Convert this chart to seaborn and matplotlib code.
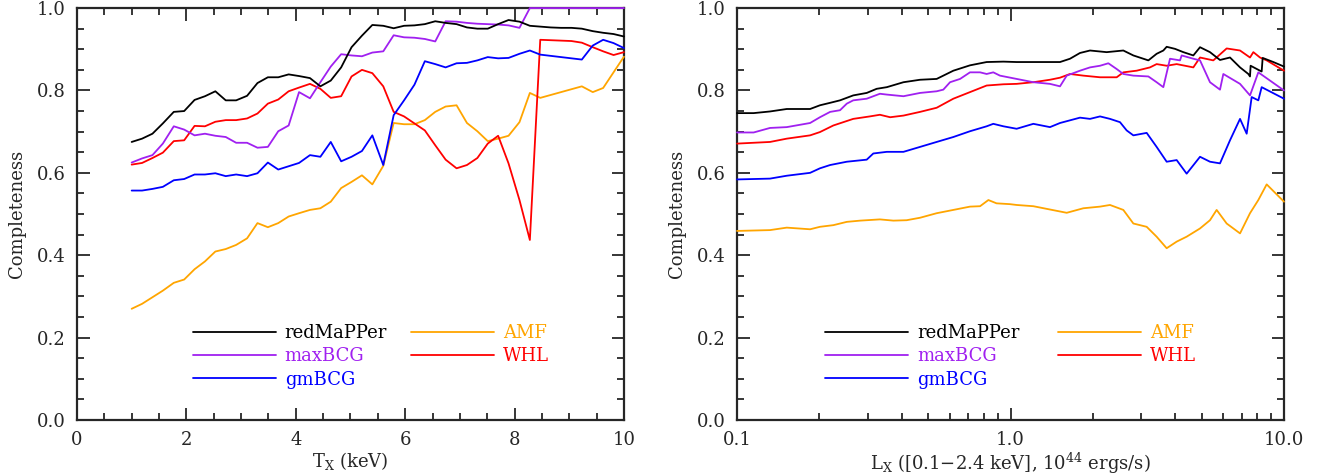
import numpy as np
import pandas as pd
import matplotlib
matplotlib.use("Agg")
import matplotlib.pyplot as plt
from matplotlib.ticker import MultipleLocator, FixedLocator, NullFormatter
import seaborn as sns

# ---- left panel: completeness vs T_X (keV)
tx = [1.00, 1.19, 1.38, 1.57, 1.77, 1.96, 2.15, 2.34, 2.53, 2.72,
      2.91, 3.11, 3.30, 3.49, 3.68, 3.87, 4.06, 4.26, 4.45, 4.64,
      4.83, 5.02, 5.21, 5.40, 5.60, 5.79, 5.98, 6.17, 6.36, 6.55,
      6.74, 6.94, 7.13, 7.32, 7.51, 7.70, 7.89, 8.09, 8.28, 8.47,
      8.66, 8.85, 9.04, 9.23, 9.43, 9.62, 9.81, 10.00]

tx_redmapper = [0.675, 0.683, 0.695, 0.720, 0.748, 0.750, 0.777, 0.786, 0.798, 0.776,
                0.776, 0.787, 0.818, 0.832, 0.832, 0.839, 0.835, 0.830, 0.810, 0.824,
                0.856, 0.905, 0.933, 0.959, 0.957, 0.951, 0.957, 0.958, 0.961, 0.968,
                0.964, 0.961, 0.953, 0.950, 0.950, 0.961, 0.971, 0.967, 0.957, 0.955,
                0.953, 0.952, 0.952, 0.950, 0.944, 0.940, 0.937, 0.931]
tx_maxbcg = [0.625, 0.635, 0.643, 0.671, 0.713, 0.705, 0.691, 0.695, 0.690, 0.687,
             0.673, 0.673, 0.661, 0.663, 0.701, 0.715, 0.796, 0.781, 0.820, 0.858,
             0.888, 0.885, 0.883, 0.892, 0.895, 0.934, 0.929, 0.928, 0.925, 0.919,
             0.968, 0.967, 0.964, 0.962, 0.961, 0.960, 0.958, 0.952, 1.000, 1.000,
             1.000, 1.000, 1.000, 1.000, 1.000, 1.000, 1.000, 1.000]
tx_gmbcg = [0.557, 0.557, 0.561, 0.566, 0.582, 0.585, 0.596, 0.596, 0.599, 0.592,
            0.596, 0.592, 0.599, 0.625, 0.608, 0.616, 0.624, 0.643, 0.639, 0.675,
            0.628, 0.639, 0.653, 0.691, 0.619, 0.740, 0.776, 0.814, 0.871, 0.864,
            0.856, 0.866, 0.867, 0.873, 0.881, 0.878, 0.879, 0.889, 0.897, 0.887,
            0.884, 0.881, 0.878, 0.875, 0.909, 0.923, 0.915, 0.903]
tx_amf = [0.270, 0.282, 0.298, 0.314, 0.333, 0.341, 0.366, 0.385, 0.409, 0.415,
          0.425, 0.441, 0.478, 0.468, 0.478, 0.494, 0.502, 0.510, 0.514, 0.530,
          0.563, 0.578, 0.594, 0.572, 0.617, 0.721, 0.718, 0.718, 0.728, 0.748,
          0.761, 0.764, 0.721, 0.701, 0.677, 0.683, 0.690, 0.723, 0.794, 0.782,
          0.789, 0.796, 0.803, 0.810, 0.796, 0.806, 0.844, 0.882]
tx_whl = [0.620, 0.624, 0.636, 0.649, 0.677, 0.679, 0.714, 0.713, 0.724, 0.728,
          0.728, 0.732, 0.744, 0.768, 0.778, 0.798, 0.807, 0.816, 0.804, 0.782,
          0.786, 0.834, 0.850, 0.842, 0.810, 0.748, 0.737, 0.720, 0.703, 0.667,
          0.632, 0.611, 0.619, 0.636, 0.671, 0.690, 0.623, 0.534, 0.437, 0.923,
          0.922, 0.921, 0.920, 0.916, 0.905, 0.895, 0.886, 0.893]

# ---- right panel: completeness vs L_X (10^44 erg/s)
lx_redmapper = [0.100, 0.115, 0.132, 0.152, 0.185, 0.201, 0.219, 0.238, 0.266, 0.298,
                0.324, 0.353, 0.406, 0.467, 0.537, 0.618, 0.711, 0.818, 0.942, 1.053,
                1.212, 1.517, 1.650, 1.795, 1.953, 2.247, 2.585, 2.813, 3.192, 3.422,
                3.621, 3.724, 3.995, 4.285, 4.661, 4.931, 5.363, 5.834, 6.347, 6.906,
                7.407, 7.511, 7.550, 8.170, 8.286, 8.356, 9.141, 10.0]
c_redmapper = [0.745, 0.745, 0.749, 0.755, 0.755, 0.764, 0.770, 0.776, 0.788, 0.794,
               0.804, 0.808, 0.820, 0.826, 0.828, 0.848, 0.861, 0.869, 0.870, 0.869,
               0.869, 0.869, 0.877, 0.891, 0.897, 0.893, 0.897, 0.885, 0.873, 0.889,
               0.897, 0.906, 0.901, 0.893, 0.885, 0.905, 0.893, 0.874, 0.880, 0.856,
               0.840, 0.834, 0.860, 0.848, 0.846, 0.879, 0.869, 0.858]

lx_maxbcg = [0.100, 0.115, 0.132, 0.152, 0.185, 0.201, 0.219, 0.238, 0.252, 0.266,
             0.298, 0.333, 0.353, 0.406, 0.467, 0.537, 0.568, 0.601, 0.654, 0.711,
             0.774, 0.818, 0.865, 0.915, 1.053, 1.212, 1.394, 1.517, 1.605, 1.795,
             1.953, 2.125, 2.279, 2.445, 2.585, 2.813, 3.192, 3.422, 3.621, 3.830,
             4.166, 4.225, 4.661, 4.931, 5.363, 5.834, 6.000, 6.906, 7.511, 8.056, 10.0]
c_maxbcg = [0.698, 0.698, 0.709, 0.711, 0.721, 0.735, 0.748, 0.752, 0.768, 0.776,
            0.780, 0.792, 0.790, 0.786, 0.794, 0.798, 0.802, 0.820, 0.828, 0.844,
            0.844, 0.840, 0.844, 0.836, 0.828, 0.820, 0.816, 0.810, 0.836, 0.848,
            0.856, 0.860, 0.866, 0.852, 0.840, 0.836, 0.834, 0.820, 0.808, 0.877,
            0.873, 0.885, 0.877, 0.873, 0.820, 0.802, 0.840, 0.816, 0.788, 0.844, 0.800]

lx_gmbcg = [0.100, 0.132, 0.152, 0.185, 0.201, 0.219, 0.252, 0.298, 0.315, 0.353,
            0.406, 0.467, 0.537, 0.618, 0.711, 0.818, 0.865, 0.942, 1.053, 1.212,
            1.394, 1.517, 1.795, 1.953, 2.125, 2.311, 2.514, 2.659, 2.813, 3.147,
            3.422, 3.724, 4.051, 4.406, 4.931, 5.363, 5.834, 6.347, 6.906, 7.304,
            7.617, 8.056, 8.286, 10.0]
c_gmbcg = [0.584, 0.586, 0.593, 0.600, 0.611, 0.619, 0.627, 0.632, 0.647, 0.651,
           0.651, 0.663, 0.675, 0.687, 0.701, 0.713, 0.719, 0.713, 0.707, 0.719,
           0.711, 0.721, 0.734, 0.731, 0.737, 0.731, 0.723, 0.703, 0.691, 0.697,
           0.663, 0.627, 0.631, 0.598, 0.639, 0.627, 0.623, 0.679, 0.731, 0.695,
           0.784, 0.776, 0.808, 0.780]

lx_amf = [0.100, 0.132, 0.152, 0.185, 0.201, 0.225, 0.252, 0.282, 0.333, 0.373,
          0.417, 0.467, 0.537, 0.618, 0.711, 0.774, 0.830, 0.889, 0.995, 1.053,
          1.212, 1.394, 1.605, 1.846, 2.125, 2.311, 2.585, 2.813, 3.147, 3.422,
          3.724, 4.051, 4.406, 4.931, 5.363, 5.672, 6.171, 6.906, 7.511, 8.056,
          8.643, 10.0]
c_amf = [0.459, 0.461, 0.467, 0.463, 0.469, 0.473, 0.481, 0.484, 0.487, 0.484,
         0.485, 0.491, 0.502, 0.510, 0.518, 0.519, 0.534, 0.526, 0.524, 0.522,
         0.519, 0.511, 0.503, 0.514, 0.518, 0.522, 0.510, 0.477, 0.469, 0.445,
         0.417, 0.433, 0.445, 0.465, 0.485, 0.510, 0.477, 0.453, 0.502, 0.534,
         0.572, 0.530]

lx_whl = [0.100, 0.132, 0.152, 0.185, 0.201, 0.225, 0.266, 0.306, 0.333, 0.363,
          0.406, 0.467, 0.537, 0.618, 0.711, 0.818, 0.942, 1.053, 1.212, 1.394,
          1.517, 1.650, 1.846, 2.125, 2.445, 2.585, 2.893, 3.236, 3.422, 3.724,
          4.051, 4.661, 4.931, 5.515, 6.171, 6.906, 7.511, 7.725, 8.170, 8.643, 10.0]
c_whl = [0.671, 0.675, 0.683, 0.691, 0.699, 0.715, 0.731, 0.737, 0.741, 0.735,
         0.739, 0.748, 0.758, 0.780, 0.796, 0.812, 0.815, 0.816, 0.820, 0.826,
         0.831, 0.840, 0.836, 0.832, 0.832, 0.844, 0.848, 0.856, 0.864, 0.860,
         0.864, 0.856, 0.880, 0.873, 0.902, 0.897, 0.880, 0.893, 0.880, 0.873, 0.848]

catalogs = ["redMaPPer", "maxBCG", "gmBCG", "AMF", "WHL"]
colors = {"redMaPPer": "black", "maxBCG": "#A020F0", "gmBCG": "#0000FF",
          "AMF": "#FFA500", "WHL": "#FF0000"}

left = pd.concat([
    pd.DataFrame({"x": tx, "c": tx_redmapper, "cat": "redMaPPer"}),
    pd.DataFrame({"x": tx, "c": tx_maxbcg, "cat": "maxBCG"}),
    pd.DataFrame({"x": tx, "c": tx_gmbcg, "cat": "gmBCG"}),
    pd.DataFrame({"x": tx, "c": tx_amf, "cat": "AMF"}),
    pd.DataFrame({"x": tx, "c": tx_whl, "cat": "WHL"}),
])
right = pd.concat([
    pd.DataFrame({"x": lx_redmapper, "c": c_redmapper, "cat": "redMaPPer"}),
    pd.DataFrame({"x": lx_maxbcg, "c": c_maxbcg, "cat": "maxBCG"}),
    pd.DataFrame({"x": lx_gmbcg, "c": c_gmbcg, "cat": "gmBCG"}),
    pd.DataFrame({"x": lx_amf, "c": c_amf, "cat": "AMF"}),
    pd.DataFrame({"x": lx_whl, "c": c_whl, "cat": "WHL"}),
])

sns.set_style("ticks")
plt.rcParams["font.family"] = ["DejaVu Serif"]
plt.rcParams["mathtext.fontset"] = "dejavuserif"
fs = 13

fig = plt.figure(figsize=(13.18, 4.75), dpi=100)
ax1 = fig.add_axes([0.0584, 0.1158, 0.4150, 0.8672])
ax2 = fig.add_axes([0.5592, 0.1158, 0.4150, 0.8672])

for ax, df in [(ax1, left), (ax2, right)]:
    sns.lineplot(data=df, x="x", y="c", hue="cat", palette=colors,
                 hue_order=["AMF", "WHL", "gmBCG", "maxBCG", "redMaPPer"],
                 sort=False, estimator=None, lw=1.3, ax=ax, legend=False)
    # draw on top of the frame so the maxBCG run at 1.0 stays visible
    for ln in ax.lines:
        ln.set_clip_on(False)
        ln.set_zorder(3)
    ax.set_ylim(0, 1.0)
    ax.yaxis.set_major_locator(MultipleLocator(0.2))
    ax.yaxis.set_minor_locator(MultipleLocator(0.05))
    ax.yaxis.set_major_formatter(matplotlib.ticker.FormatStrFormatter("%.1f"))
    ax.set_ylabel("Completeness", fontsize=fs, labelpad=8)
    ax.tick_params(which="both", direction="in", top=True, right=True,
                   labelsize=fs, width=1.3)
    ax.tick_params(which="major", length=9, pad=8)
    ax.tick_params(which="minor", length=5)
    for s in ax.spines.values():
        s.set_linewidth(1.6)

ax1.set_xlim(0, 10)
ax1.xaxis.set_major_locator(MultipleLocator(2))
ax1.xaxis.set_minor_locator(MultipleLocator(0.5))
ax1.set_xlabel(r"T$_\mathrm{X}$ (keV)", fontsize=fs, labelpad=1)

ax2.set_xscale("log")
ax2.set_xlim(0.1, 10)
ax2.xaxis.set_major_locator(FixedLocator([0.1, 1.0, 10.0]))
ax2.xaxis.set_major_formatter(matplotlib.ticker.FixedFormatter(["0.1", "1.0", "10.0"]))
ax2.xaxis.set_minor_locator(matplotlib.ticker.LogLocator(base=10, subs=np.arange(2, 10)))
ax2.xaxis.set_minor_formatter(NullFormatter())
ax2.set_xlabel(r"L$_\mathrm{X}$ ([0.1$-$2.4 keV], 10$^{44}$ ergs/s)", fontsize=fs, labelpad=1)


def add_legend(ax, x0, colsp):
    handles = [plt.Line2D([], [], color=colors[c], lw=1.3) for c in catalogs]
    ax.legend(handles, catalogs, ncol=2, frameon=False, fontsize=fs,
              labelcolor="linecolor", handlelength=4.6, handletextpad=0.5,
              columnspacing=colsp, labelspacing=0.3, borderpad=0,
              loc="upper left", bbox_to_anchor=(x0, 0.255))


add_legend(ax1, 0.195, 1.3)
add_legend(ax2, 0.145, 2.1)

fig.savefig("out.png", dpi=100)
